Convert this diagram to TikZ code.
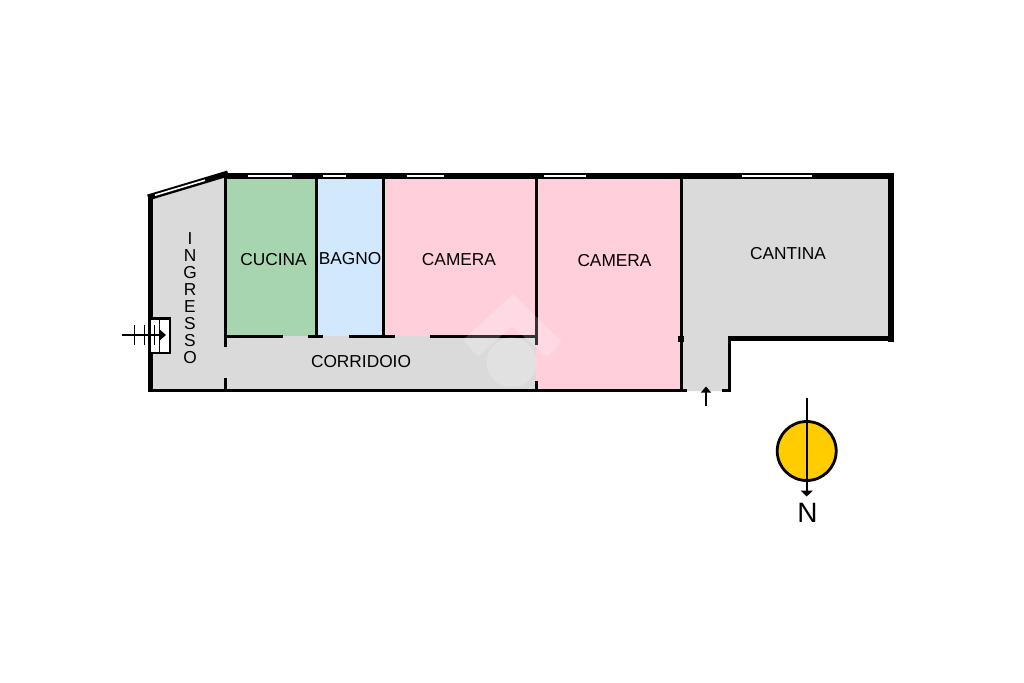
\documentclass[tikz,border=0pt]{standalone}
\usepackage{fontspec}
\setmainfont{Liberation Sans}
\usetikzlibrary{arrows.meta,positioning}
\definecolor{roomgray}{HTML}{DADADA}
\definecolor{roomgreen}{HTML}{A6D5AF}
\definecolor{roomblue}{HTML}{D2E8FC}
\definecolor{roompink}{HTML}{FFD0DC}
\definecolor{sunyellow}{HTML}{FFCC00}
\tikzset{
    %Define standard arrow tip
    >={Triangle[length=6pt,width=10pt]},
    %Define style for rooms
    room/.style={
           draw=none},
    roomlabel/.style={
           inner sep=0pt,
           font=\fontsize{17.3}{17}\selectfont,
           text=black},
    %Define style for walls
    outerwall/.style={
           draw=black,
           line width=5.5pt},
    innerwall/.style={
           draw=black,
           line width=3pt},
    window/.style={
           draw=white,
           line width=2.4pt},
    % Define arrow style
    pil/.style={
           ->,
           draw=black,
           line width=1.6pt},
    tick/.style={
           draw=black,
           line width=1pt}
}
\begin{document}
\begin{tikzpicture}[x=1pt,y=-1pt]
\useasboundingbox[fill=white] (0,0) rectangle (1024,682);

 %rooms
\fill[room,roomgray] (150,197) -- (227,173) -- (227,336) -- (536,336) -- (536,390) -- (150,390) -- cycle;
\fill[room,roomgreen] (226,176) rectangle (317,336);
\fill[room,roomblue] (317,176) rectangle (384,336);
\fill[room,roompink] (384,176) rectangle (536,336);
\fill[room,roompink] (536,176) rectangle (681,390);
\fill[room,roomgray] (681,176) -- (891,176) -- (891,339) -- (729,339) -- (729,391) -- (681,391) -- cycle;

 %outer walls
\draw[outerwall] (150.5,392) -- (150.5,195);
\draw[draw=black,line width=6pt] (148,197.5) -- (228,173.5);
\draw[outerwall] (226,176) -- (894,176);
\draw[outerwall] (891,173.3) -- (891,341.7);
\draw[outerwall] (894,338.7) -- (727.5,338.7);
\draw[innerwall] (729,337) -- (729,391.5);
\draw[innerwall] (730.5,390.2) -- (722,390.2);
\draw[innerwall] (148,390.2) -- (687,390.2);

 %inner walls
\draw[innerwall] (225.6,172) -- (225.6,347);
\draw[innerwall] (225.6,378) -- (225.6,390);
\draw[innerwall] (316.7,176) -- (316.7,336);
\draw[innerwall] (383.7,176) -- (383.7,336);
\draw[innerwall] (536.4,176) -- (536.4,345);
\draw[innerwall] (536.4,380.7) -- (536.4,390);
\draw[innerwall] (681.4,176) -- (681.4,390);
\fill[black] (677.7,335.7) rectangle (684,342.3);
\foreach \xa/\xb in {225/282.7,308.3/323.3,349.3/395,430/537}
  \draw[innerwall] (\xa,336.3) -- (\xb,336.3);

 %windows
\foreach \xa/\xb in {248.3/292.3,322.7/346,406.7/444,544/586,742/812}
  \draw[window] (\xa,176) -- (\xb,176);
\draw[window,line width=1.6pt] (155,195.2) -- (205,180.2);

 %watermark
\fill[white,opacity=.2] (513,294) -- (561.7,341.7) -- (546.7,357) -- (512,326) -- (478,356.7) -- (463,340) -- cycle;
\fill[white,opacity=.2] (511.7,362.5) circle (25);

 %entrance
\draw[draw=black,fill=white,line width=2.8pt] (150,318.5) rectangle (170,353);
\draw[tick,line width=1.4pt] (159.3,318.5) -- (159.3,353);
\foreach \xa in {134.3,144.3,154.3}
  \draw[tick] (\xa,325) -- (\xa,345);
\draw[pil] (122,335) -- (166,335);

 %door arrow
\draw[pil,line width=1.3pt] (706,406) -- (706,386.5);

 %compass
\node[circle,draw=black,fill=sunyellow,line width=2.8pt,minimum size=59pt,inner sep=0pt](sun) at (806.7,451){};
\coordinate (sunstart) at (806.7,398);
\coordinate (sunend) at (806.7,496.5);
\draw[pil,>={Triangle[length=6pt,width=12pt]}] (sunstart) -- (sunend);
\node[font=\fontsize{28}{28}\selectfont,inner sep=0pt](north) at (807.5,513){N};

 %labels
\node[roomlabel](cucina) at (273.5,259.5){CUCINA};
\node[roomlabel](bagno) at (350,259){BAGNO};
\node[roomlabel](cameraa) at (459,260){CAMERA};
\node[roomlabel](camerab) at (614.5,261){CAMERA};
\node[roomlabel](cantina) at (788,254){CANTINA};
\node[roomlabel](corridoio) at (361,362){CORRIDOIO};
\node[roomlabel,align=center](ingresso) at (190,298){I\\N\\G\\R\\E\\S\\S\\O};

\end{tikzpicture}
\end{document}
